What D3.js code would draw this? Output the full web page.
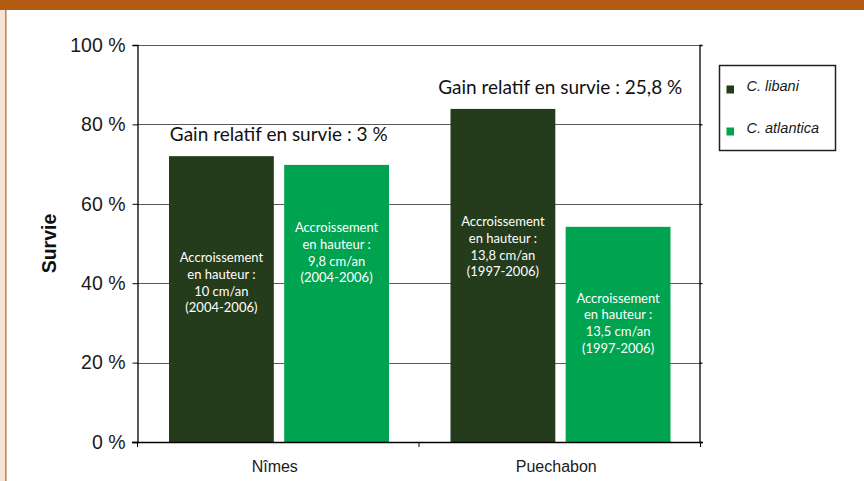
<!DOCTYPE html>
<html>
<head>
<meta charset="utf-8">
<script src="https://cdn.jsdelivr.net/npm/d3@7"></script>
<style>
  html, body { margin: 0; padding: 0; background: #fff; }
  svg { display: block; }
</style>
</head>
<body>
<svg id="chart" width="864" height="481"></svg>
<script>
// Sites and species
const sites = ["Nîmes", "Puechabon"];
const species = ["C. libani", "C. atlantica"];

// Survival (%) per site, one array per species
const survieLibani = [72.0, 83.9];
const survieAtlantica = [69.8, 54.2];

// Relative gain in survival per site
const gainLabels = ["Gain relatif en survie : 3 %", "Gain relatif en survie : 25,8 %"];

// Height growth notes inside each bar
const growthLibani = ["10 cm/an", "13,8 cm/an"];
const growthAtlantica = ["9,8 cm/an", "13,5 cm/an"];
const periods = ["(2004-2006)", "(1997-2006)"];

// Y axis ticks
const yTicks = [0, 20, 40, 60, 80, 100];

// Where the first line of each in-bar note sits, in survival units
const noteTopLibani = [46.4, 55.5];
const noteTopAtlantica = [54.0, 36.2];

const colors = { "C. libani": "#243c1b", "C. atlantica": "#00a34f" };

const svg = d3.select("#chart");

// page frame: top band and left rule
svg.append("rect").attr("x", 0).attr("y", 0).attr("width", 5).attr("height", 481).attr("fill", "#f7e4d5");
svg.append("rect").attr("x", 5).attr("y", 0).attr("width", 1.6).attr("height", 481).attr("fill", "#c8864f");
svg.append("rect").attr("x", 0).attr("y", 0).attr("width", 864).attr("height", 10).attr("fill", "#b45b13");

const plotLeft = 137, plotRight = 700, plotTop = 45, plotBottom = 442;

const y = d3.scaleLinear().domain([0, 100]).range([plotBottom, plotTop]);
const x0 = d3.scaleBand().domain(sites).range([plotLeft, plotRight]).paddingInner(0).paddingOuter(0);
const x1 = d3.scaleBand().domain(species).range([32, 252]).paddingInner(0.09).paddingOuter(0);

const rows = sites.map((s, i) => ({
  site: s,
  gain: gainLabels[i],
  bars: [
    { sp: species[0], v: survieLibani[i], note: ["Accroissement", "en hauteur :", growthLibani[i], periods[i]], at: noteTopLibani[i] },
    { sp: species[1], v: survieAtlantica[i], note: ["Accroissement", "en hauteur :", growthAtlantica[i], periods[i]], at: noteTopAtlantica[i] }
  ]
}));

// gridlines
svg.append("g").selectAll("line").data(yTicks.filter(t => t > 0)).join("line")
  .attr("x1", plotLeft).attr("x2", plotRight + 2)
  .attr("y1", d => Math.round(y(d)) + 0.5).attr("y2", d => Math.round(y(d)) + 0.5)
  .attr("stroke", "#5a5a5a").attr("stroke-width", 1);

// bars
const groups = svg.append("g").selectAll("g").data(rows).join("g")
  .attr("transform", d => `translate(${x0(d.site)},0)`);

groups.selectAll("rect").data(d => d.bars).join("rect")
  .attr("x", d => x1(d.sp))
  .attr("y", d => y(d.v))
  .attr("width", x1.bandwidth())
  .attr("height", d => y(0) - y(d.v))
  .attr("fill", d => colors[d.sp]);

// notes inside bars
groups.selectAll("text.note").data(d => d.bars).join("text")
  .attr("class", "note")
  .attr("text-anchor", "middle")
  .attr("font-family", "Lato, 'Open Sans', sans-serif")
  .attr("font-size", 13)
  .attr("fill", "#fff")
  .each(function (d) {
    const t = d3.select(this);
    d.note.forEach((line, k) => {
      t.append("tspan")
        .attr("x", x1(d.sp) + x1.bandwidth() / 2)
        .attr("y", y(d.at) + 4.5 + k * 16.7)
        .text(line);
    });
  });

// relative gain above each site
groups.append("text")
  .attr("x", x0.bandwidth() / 2 + 1)
  .attr("y", d => y(d3.max(d.bars, b => b.v)) - 15)
  .attr("text-anchor", "middle")
  .attr("font-family", "Lato, 'Open Sans', sans-serif")
  .attr("font-size", 19)
  .attr("fill", "#111")
  .text(d => d.gain);

// left axis
const yAxis = svg.append("g").attr("transform", `translate(${plotLeft + 0.5},0)`)
  .call(d3.axisLeft(y).tickValues(yTicks).tickSize(5).tickPadding(7).tickFormat(d => d + " %"));
yAxis.select(".domain").attr("stroke", "#000").attr("stroke-width", 1.3);
yAxis.selectAll(".tick line").attr("stroke", "#000");
yAxis.selectAll("text").attr("font-family", "'Liberation Sans', Arial, sans-serif")
  .attr("font-size", 19.5).attr("fill", "#1a1a1a");

// right axis
const yAxisR = svg.append("g").attr("transform", `translate(${plotRight - 0.5},0)`)
  .call(d3.axisRight(y).tickValues(yTicks).tickSize(3).tickFormat(""));
yAxisR.select(".domain").attr("stroke", "#000").attr("stroke-width", 1.3);
yAxisR.selectAll(".tick line").attr("stroke", "#000");

// bottom axis with ticks at band boundaries
svg.append("line").attr("x1", plotLeft - 5).attr("x2", plotRight + 3)
  .attr("y1", plotBottom + 0.5).attr("y2", plotBottom + 0.5).attr("stroke", "#000").attr("stroke-width", 1.3);
const bounds = [plotLeft, x0(sites[1]), plotRight];
svg.append("g").selectAll("line").data(bounds).join("line")
  .attr("x1", d => d + 0.5).attr("x2", d => d + 0.5)
  .attr("y1", plotBottom).attr("y2", plotBottom + 5)
  .attr("stroke", "#000").attr("stroke-width", 1);
svg.append("g").selectAll("text").data(sites).join("text")
  .attr("x", d => x0(d) + x0.bandwidth() / 2 - 3)
  .attr("y", 472)
  .attr("text-anchor", "middle")
  .attr("font-family", "'Liberation Sans', Arial, sans-serif")
  .attr("font-size", 16)
  .attr("fill", "#1a1a1a")
  .text(d => d);

// y axis title
svg.append("text")
  .attr("transform", `translate(56,${(plotTop + plotBottom) / 2}) rotate(-90)`)
  .attr("text-anchor", "middle")
  .attr("font-family", "'Liberation Sans', Arial, sans-serif")
  .attr("font-weight", "bold")
  .attr("font-size", 19.5)
  .attr("fill", "#111")
  .text("Survie");

// legend
const lg = svg.append("g").attr("transform", "translate(719.5,65.5)");
lg.append("rect").attr("width", 116).attr("height", 85)
  .attr("fill", "#fff").attr("stroke", "#222").attr("stroke-width", 1.5);
const items = lg.selectAll("g").data(species).join("g")
  .attr("transform", (d, i) => `translate(0,${20 + i * 42})`);
items.append("rect").attr("x", 7).attr("y", 0).attr("width", 7.5).attr("height", 8)
  .attr("fill", d => colors[d]);
items.append("text").attr("x", 27).attr("y", 5.5)
  .attr("font-family", "'Liberation Sans', Arial, sans-serif")
  .attr("font-style", "italic")
  .attr("font-size", 14.5)
  .attr("fill", "#1a1a1a")
  .text(d => d);
</script>
</body>
</html>
